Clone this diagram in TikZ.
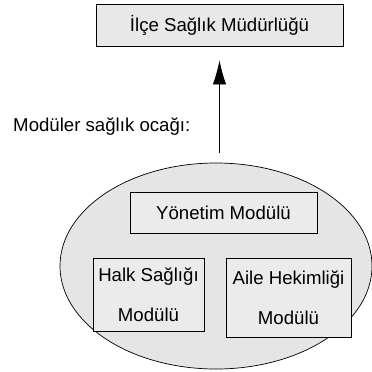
\documentclass[tikz,border=0pt]{standalone}
\usepackage{fontspec}
\setmainfont{Liberation Sans}
\usetikzlibrary{shapes.geometric,arrows.meta}
\begin{document}
\begin{tikzpicture}[x=0.03cm, y=-0.03cm]
  \tikzstyle{modul}=[draw, line width=0.6pt, fill=black!8!white, inner sep=0pt, align=center, font=\fontsize{15.9}{34}\selectfont]

  \useasboundingbox (0, 0) rectangle (372, 372);

  \node[ellipse, draw, line width=0.6pt, fill=black!10!white, minimum width=9.36cm, minimum height=6.18cm] (ocak) at (216, 266) {};

  \node[modul, fill=black!9!white, minimum width=7.41cm, minimum height=1.26cm] (mudurluk) at (219.5, 25) {İlçe Sağlık Müdürlüğü};
  \node[modul, minimum width=5.61cm, minimum height=1.23cm] (yonetim) at (223.5, 212.5) {Yönetim Modülü};
  \node[modul, minimum width=3.33cm, minimum height=2.19cm] (halk) at (148.5, 294.5) {Halk Sağlığı\\Modülü};
  \node[modul, minimum width=3.75cm, minimum height=2.37cm] (aile) at (288.5, 297.5) {Aile Hekimliği\\Modülü};

  \node[anchor=west, inner sep=0pt, font=\fontsize{15.9}{18}\selectfont] (baslik) at (13, 127) {Modüler sağlık ocağı:};

  \draw[line width=0.6pt, -{Latex[length=7.2mm, width=4mm]}, shorten <=0.3cm, shorten >=0.42cm] (ocak.north -| mudurluk.south) -- (mudurluk.south);
\end{tikzpicture}
\end{document}
